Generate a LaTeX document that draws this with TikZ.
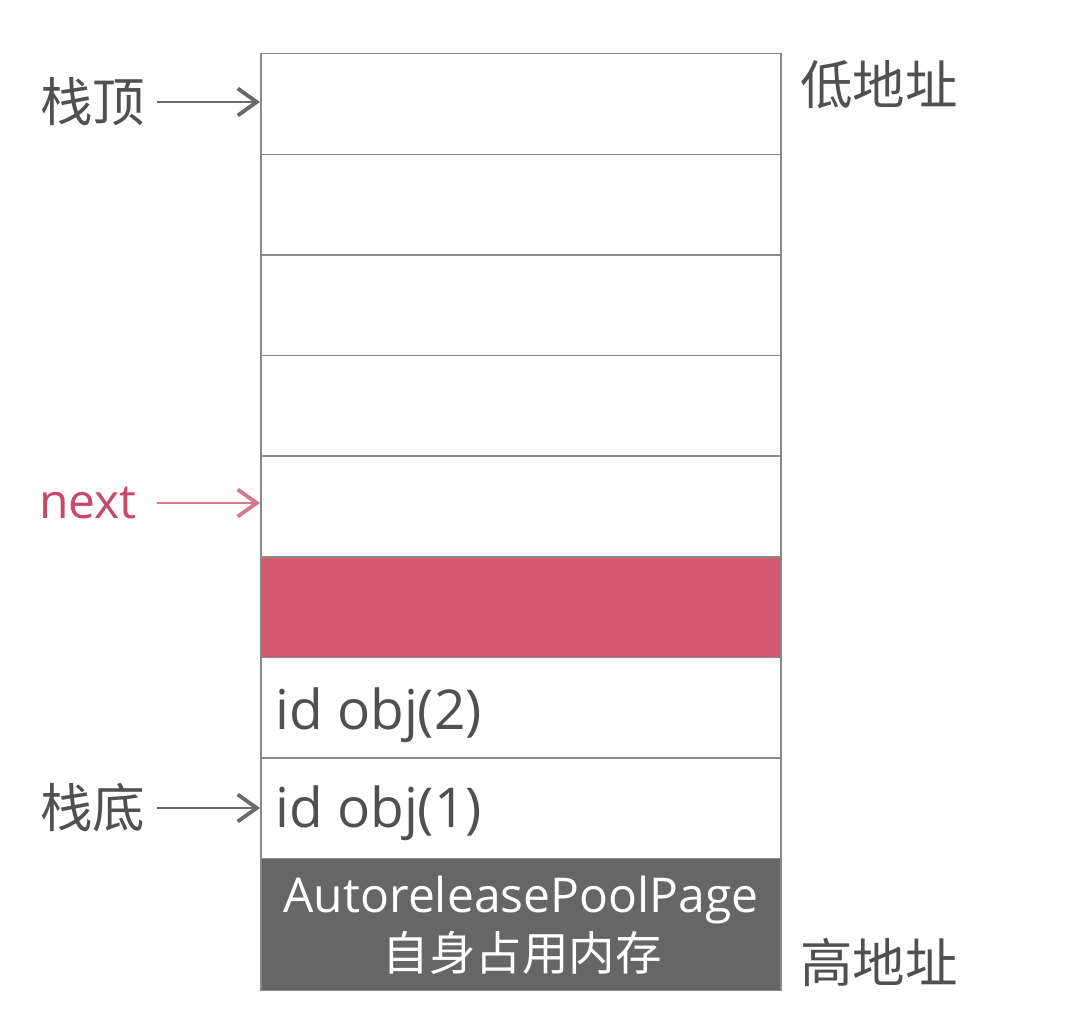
\documentclass[tikz,border=0pt]{standalone}
\usepackage{fontspec}
\setmainfont{Noto Sans CJK SC}
\newfontfamily\latinfont{Open Sans}
\usetikzlibrary{arrows.meta}
\definecolor{linegray}{HTML}{8A8A8A}
\definecolor{txtgray}{HTML}{505050}
\definecolor{pinkred}{HTML}{D45870}
\definecolor{nextred}{HTML}{C8486A}
\definecolor{darkfill}{HTML}{666666}
\tikzset{
  cell/.style={draw=linegray, line width=1.5pt, minimum width=520pt, minimum height=100.6pt, inner sep=0pt, anchor=north west},
  lbl/.style={text=txtgray, font=\fontsize{52.5}{58}\selectfont, inner sep=0pt},
  objtxt/.style={text=txtgray, font=\latinfont\fontsize{55}{60}\selectfont, inner sep=0pt, anchor=west},
  ptr/.style={-{Straight Barb[length=19pt,width=27pt,line width=3.8pt]}, line width=2.8pt, draw=txtgray!85},
}
\begin{document}
\begin{tikzpicture}[x=1pt,y=-1pt]
\useasboundingbox (0,0) rectangle (1066,1032);
\fill[white] (0,0) rectangle (1066,1032);
\fill[black!0.4] (20,38) rectangle (975,1032);
\node[cell, fill=white] (r0) at (260,53) {};
\node[cell, fill=white] (r1) at (260,153.6) {};
\node[cell, fill=white] (r2) at (260,254.2) {};
\node[cell, fill=white] (r3) at (260,354.8) {};
\node[cell, fill=white] (r4) at (260,455.4) {};
\node[cell, fill=pinkred] (r5) at (260,556) {};
\node[cell, fill=white] (r6) at (260,656.6) {};
\node[cell, fill=white] (r7) at (260,757.2) {};
\node[cell, fill=darkfill, minimum height=132pt] (r8) at (260,857.8) {};
\node[text=white, font=\latinfont\fontsize{48}{54}\selectfont, inner sep=0pt] (t8a) at (521,900) {AutoreleasePoolPage};
\node[text=white, font=\fontsize{46.5}{50}\selectfont, inner sep=0pt] (t8b) at (522,953) {自身占用内存};
\node[objtxt] (o2) at (275,715) {id obj(2)};
\node[objtxt] (o1) at (275,813) {id obj(1)};
\node[lbl, anchor=west] (top) at (40,102) {栈顶};
\node[lbl, anchor=west] (bot) at (40,808) {栈底};
\node[lbl, anchor=west, text=nextred, font=\latinfont\fontsize{48}{54}\selectfont] (nxt) at (39,503) {next};
\node[lbl, anchor=west] (low) at (800,85) {低地址};
\node[lbl, anchor=west] (high) at (800,962) {高地址};
\coordinate (atop) at (r0.west |- top);
\coordinate (anext) at (r4.west |- nxt);
\coordinate (abot) at (r7.west |- bot);
\draw[ptr] (157,102) -- (atop);
\draw[ptr, draw=nextred!75] (157,503) -- (anext);
\draw[ptr] (157,808) -- (abot);
\end{tikzpicture}
\end{document}
